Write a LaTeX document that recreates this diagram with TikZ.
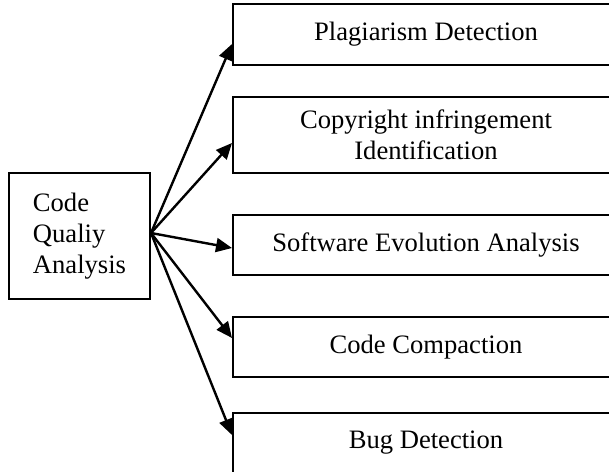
\documentclass[tikz,border=0pt]{standalone}
\usepackage{fontspec}
\setmainfont{Liberation Serif}
\usetikzlibrary{arrows.meta, positioning}
\tikzset{
  appbox/.style={draw=black, line width=1pt, minimum width=193pt,
                 minimum height=30pt, align=center, inner sep=2pt},
  arr/.style={-{Triangle[length=8pt, width=7pt]}, line width=1.2pt, black},
}
\begin{document}
\begin{tikzpicture}[x=0.5pt, y=-0.5pt, font=\fontsize{13.3}{15.5}\selectfont,
    mainbox/.style={draw=black, line width=1pt, minimum width=70.5pt,
                    minimum height=63pt, align=left}]
  \useasboundingbox (0,0) rectangle (609,471);
  \clip (0,0) rectangle (609,471);
  \node[mainbox] (cqa) at (79.5,236) {Code\\Qualiy\\Analysis};
  \coordinate (src) at ([yshift=1.5pt]cqa.east);
  \node[appbox, minimum height=30.5pt] (pd) at (426,34.5) {Plagiarism Detection};
  \node[appbox, minimum height=38pt]   (cii) at (426,135) {Copyright infringement\\Identification};
  \node[appbox] (sea) at (426,245) {Software Evolution Analysis};
  \node[appbox] (cc)  at (426,347) {Code Compaction};
  \node[appbox] (bd)  at (426,443) {Bug Detection};
  \draw[arr] (src) -- ([yshift=-4.75pt]pd.west);
  \draw[arr] (src) -- ([yshift=-4pt]cii.west);
  \draw[arr] (src) -- ([yshift=-1.5pt]sea.west);
  \draw[arr] (src) -- ([yshift=4.5pt]cc.west);
  \draw[arr] (src) -- ([yshift=4pt]bd.west);
\end{tikzpicture}
\end{document}
